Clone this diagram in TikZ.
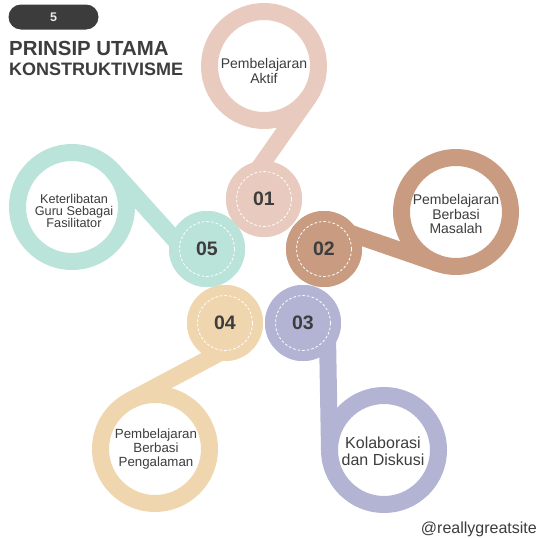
\documentclass[tikz,border=0pt]{standalone}
\usepackage{fontspec}
\setmainfont{Liberation Sans}
\usetikzlibrary{calc}

\definecolor{petalA}{RGB}{232,203,190}
\definecolor{petalB}{RGB}{201,156,130}
\definecolor{petalC}{RGB}{179,179,212}
\definecolor{petalD}{RGB}{239,214,174}
\definecolor{petalE}{RGB}{186,227,218}
\definecolor{ink}{RGB}{61,61,61}
\definecolor{badgegray}{RGB}{60,60,60}

\tikzset{
  loop/.style={circle, draw=#1, line width=17pt, minimum size=109pt, inner sep=0pt},
  stem/.style={draw=#1, line width=17pt},
  hub/.style={circle, fill=#1, minimum size=76pt, inner sep=0pt},
  dashring/.style={draw=white, dash pattern=on 2.6pt off 2pt, line width=0.8pt},
  num/.style={font=\fontsize{19.5}{20}\selectfont\bfseries, text=ink, inner sep=0pt},
  caption/.style={align=center, text=ink, inner sep=0pt},
}

% one petal: #1 id, #2 colour, #3 loop centre, #4 hub centre,
% #5 angle of the tangent point on the loop, #6 number
\newcommand\drawpetal[6]{%
  \node[loop=#2] (L#1) at #3 {};
  \node[hub=#2] (H#1) at #4 {};
  \coordinate (T#1) at ($(L#1.center)+(#5:54.5)$);
  \coordinate (U#1) at ($(T#1)+(#5+90:10)$);
  \coordinate (B#1) at ($(T#1)!(H#1.center)!(U#1)$);
  \draw[stem=#2] (T#1) -- (B#1);
  \node[hub=#2] at (H#1) {};
  \draw[dashring] (H#1.center) circle[radius=27.5];
  \node[num] (N#1) at (H#1) {#6};
}

\begin{document}
\begin{tikzpicture}[x=1pt,y=-1pt]
  \useasboundingbox (0,0) rectangle (539,538);
  \fill[white] (0,0) rectangle (539,538);

  % title block
  \node[fill=badgegray, rounded corners=12.5pt, minimum width=90pt, minimum height=25pt,
        inner sep=0pt, text=white!92!black, font=\fontsize{12.5}{13}\selectfont\bfseries]
        (badge) at (53.5,17) {5};
  \node[anchor=base west, inner sep=0pt, text=ink, font=\fontsize{20.4}{22}\selectfont\bfseries]
        (title) at (9,56) {PRINSIP UTAMA};
  \node[anchor=base west, inner sep=0pt, text=ink, font=\fontsize{18}{19}\selectfont\bfseries]
        (subtitle) at (9,75) {KONSTRUKTIVISME};

  % the five petals
  \drawpetal{1}{petalA}{(264,66)}{(264,199)}{35}{01}
  \drawpetal{2}{petalB}{(456,212)}{(324,249)}{109}{02}
  \drawpetal{3}{petalC}{(384,450)}{(303,323)}{179}{03}
  \drawpetal{4}{petalD}{(155,449)}{(225,323)}{242}{04}
  \drawpetal{5}{petalE}{(72,207)}{(207,249)}{318}{05}

  % captions inside the loops
  \node[caption, font=\fontsize{14}{15}\selectfont] (c1) at (264,71) {Pembelajaran\\Aktif};
  \node[caption, font=\fontsize{14}{14.5}\selectfont] (c2) at (456,214) {Pembelajaran\\Berbasi\\Masalah};
  \node[caption, font=\fontsize{16}{17}\selectfont] (c3) at (383,451) {Kolaborasi\\dan Diskusi};
  \node[caption, font=\fontsize{13.3}{13.6}\selectfont] (c4) at (156,449) {Pembelajaran\\Berbasi\\Pengalaman};
  \node[caption, font=\fontsize{12.7}{12.3}\selectfont] (c5) at (74,211) {Keterlibatan\\Guru Sebagai\\Fasilitator};

  % footer
  \node[anchor=base east, inner sep=0pt, text=ink, font=\fontsize{16}{17}\selectfont]
        (handle) at (537,533) {@reallygreatsite};
\end{tikzpicture}
\end{document}
